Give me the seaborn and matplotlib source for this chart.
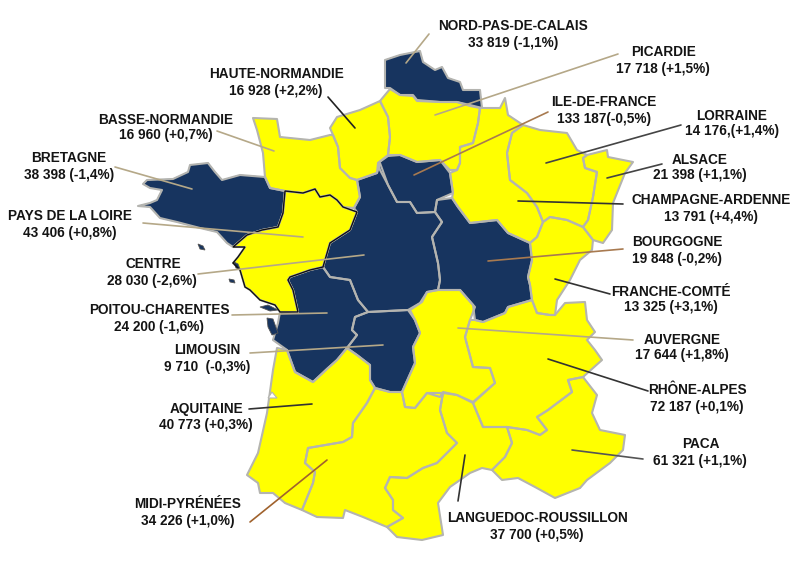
import matplotlib
matplotlib.use("Agg")
import matplotlib.pyplot as plt
import seaborn as sns
from matplotlib.patches import Polygon

# ---- chart values ----
regions = ["NORD-PAS-DE-CALAIS", "PICARDIE", "HAUTE-NORMANDIE", "ILE-DE-FRANCE", "BASSE-NORMANDIE",
           "LORRAINE", "BRETAGNE", "ALSACE", "CHAMPAGNE-ARDENNE", "PAYS DE LA LOIRE", "BOURGOGNE",
           "CENTRE", "FRANCHE-COMTÉ", "POITOU-CHARENTES", "AUVERGNE", "LIMOUSIN", "RHÔNE-ALPES",
           "AQUITAINE", "PACA", "MIDI-PYRÉNÉES", "LANGUEDOC-ROUSSILLON"]
value_labels = ["33 819 (-1,1%)", "17 718 (+1,5%)", "16 928 (+2,2%)", "133 187(-0,5%)", "16 960 (+0,7%)",
                "14 176,(+1,4%)", "38 398 (-1,4%)", "21 398 (+1,1%)", "13 791 (+4,4%)", "43 406 (+0,8%)",
                "19 848 (-0,2%)", "28 030 (-2,6%)", "13 325 (+3,1%)", "24 200 (-1,6%)", "17 644 (+1,8%)",
                "9 710  (-0,3%)", "72 187 (+0,1%)", "40 773 (+0,3%)", "61 321 (+1,1%)", "34 226 (+1,0%)",
                "37 700 (+0,5%)"]
navy_regions = ["NORD-PAS-DE-CALAIS", "ILE-DE-FRANCE", "BRETAGNE", "BOURGOGNE", "CENTRE",
                "POITOU-CHARENTES", "LIMOUSIN"]

# ---- map geometry (pixel frame of the picture) ----
outlines = {
 "NORD-PAS-DE-CALAIS": [(385,60),(400,55),(420,51),(423,62),(435,70),(442,67),(448,78),(460,82),(463,90),(480,90),(482,108),(470,105),(457,102),(440,102),(417,100),(413,95),(400,95),(390,88),(385,88)],
 "PICARDIE": [(380,101),(390,89),(400,95),(413,96),(417,101),(440,102),(457,102),(470,106),(480,108),(478,123),(473,143),(460,147),(460,163),(457,170),(450,170),(440,160),(417,162),(400,155),(388,155),(390,137),(388,117)],
 "HAUTE-NORMANDIE": [(330,128),(337,117),(360,110),(380,101),(388,117),(390,137),(388,155),(378,163),(377,173),(357,180),(350,178),(340,168),(338,147),(333,135)],
 "BASSE-NORMANDIE": [(253,118),(277,119),(280,137),(310,140),(330,135),(333,135),(338,147),(340,168),(350,178),(357,180),(360,197),(354,208),(343,207),(337,200),(330,195),(320,197),(315,189),(303,193),(285,191),(270,188),(265,177),(263,153),(257,130)],
 "BRETAGNE": [(143,184),(147,180),(173,179),(188,172),(190,165),(208,163),(215,172),(222,180),(240,175),(265,177),(270,188),(285,191),(283,213),(278,227),(262,230),(247,235),(233,247),(227,243),(217,232),(200,228),(177,222),(160,218),(150,207),(138,206),(150,203),(157,200),(162,190),(150,188)],
 "PAYS DE LA LOIRE": [(285,191),(303,193),(315,189),(320,197),(330,195),(337,200),(343,207),(357,212),(350,230),(330,243),(323,267),(310,270),(290,277),(288,280),(293,290),(298,312),(280,312),(275,305),(260,300),(250,290),(245,287),(240,270),(233,263),(238,257),(245,247),(233,247),(247,235),(262,230),(278,227),(283,213)],
 "POITOU-CHARENTES": [(288,280),(290,277),(310,270),(323,267),(330,277),(350,280),(358,300),(368,312),(355,317),(352,330),(357,335),(347,348),(337,360),(328,368),(313,382),(295,372),(287,350),(273,340),(278,323),(280,312),(298,312),(293,290)],
 "CENTRE": [(380,163),(377,173),(357,180),(360,197),(354,208),(357,212),(350,230),(330,243),(323,267),(330,277),(350,280),(358,300),(368,312),(408,310),(420,303),(427,292),(438,290),(440,280),(438,263),(432,237),(442,222),(435,212),(417,213),(410,202),(397,202),(388,185)],
 "ILE-DE-FRANCE": [(378,163),(388,156),(400,155),(417,162),(440,160),(450,173),(453,193),(437,200),(435,212),(417,213),(410,202),(397,202),(388,185),(380,170)],
 "BOURGOGNE": [(437,200),(452,198),(458,207),(470,223),(497,220),(508,233),(530,243),(532,260),(528,277),(530,285),(532,300),(508,307),(505,313),(483,322),(475,320),(473,305),(460,290),(438,290),(440,280),(438,263),(432,237),(442,222),(435,212)],
 "CHAMPAGNE-ARDENNE": [(480,108),(500,108),(505,98),(508,115),(523,125),(512,133),(507,153),(510,180),(527,193),(537,207),(543,222),(537,237),(530,243),(508,233),(497,220),(470,223),(458,207),(452,198),(453,193),(450,173),(457,170),(460,163),(460,147),(473,143),(478,123)],
 "LORRAINE": [(523,125),(540,130),(567,133),(577,150),(587,155),(583,158),(585,168),(597,172),(593,197),(588,220),(583,227),(567,220),(550,217),(543,222),(537,207),(527,193),(510,180),(507,153),(512,133)],
 "ALSACE": [(587,155),(607,150),(608,157),(633,162),(625,173),(613,203),(612,230),(603,243),(593,240),(583,227),(588,220),(593,197),(597,172),(585,168),(583,158)],
 "FRANCHE-COMTÉ": [(550,217),(567,220),(583,227),(593,240),(592,250),(580,260),(570,280),(557,300),(555,315),(550,315),(537,313),(532,300),(530,285),(528,277),(532,260),(530,243),(537,237),(543,222)],
 "AUVERGNE": [(410,310),(422,302),(427,292),(438,290),(460,290),(475,307),(470,320),(465,337),(473,367),(490,368),(495,383),(473,402),(457,395),(443,392),(440,397),(427,393),(415,408),(405,407),(402,392),(415,363),(413,347),(420,333),(415,320)],
 "RHÔNE-ALPES": [(470,320),(475,320),(483,322),(505,313),(508,307),(532,300),(537,313),(550,315),(555,315),(565,303),(585,302),(587,320),(595,332),(587,340),(595,350),(602,360),(583,377),(568,380),(572,392),(548,410),(537,417),(547,430),(540,435),(527,430),(507,427),(483,427),(473,403),(495,383),(490,368),(473,367),(465,337)],
 "PACA": [(583,377),(597,395),(592,413),(600,430),(625,435),(623,450),(610,463),(587,480),(580,488),(555,498),(535,487),(518,478),(502,480),(492,470),(505,457),(512,443),(507,427),(527,430),(540,435),(547,430),(537,417),(548,410),(572,392),(568,380)],
 "LANGUEDOC-ROUSSILLON": [(473,403),(483,427),(507,427),(512,443),(505,457),(492,470),(482,468),(470,473),(450,487),(438,503),(443,535),(422,540),(397,537),(387,527),(403,518),(393,510),(393,500),(385,488),(390,477),(407,478),(423,468),(437,463),(457,443),(447,433),(440,410),(443,393),(457,395)],
 "MIDI-PYRÉNÉES": [(375,388),(390,392),(402,392),(405,407),(415,408),(427,393),(443,393),(440,410),(447,433),(457,443),(437,463),(423,468),(407,478),(390,477),(385,488),(393,500),(393,510),(403,518),(387,527),(363,517),(345,510),(343,518),(317,517),(302,510),(313,483),(315,472),(305,463),(308,448),(343,442),(352,437),(353,423),(367,403)],
 "AQUITAINE": [(277,348),(287,350),(295,372),(313,382),(328,368),(337,360),(347,348),(357,355),(370,365),(370,380),(375,388),(367,403),(353,423),(352,437),(343,442),(308,448),(305,463),(315,472),(313,483),(302,510),(285,503),(273,493),(260,493),(258,483),(247,475),(258,453),(267,413),(273,370)],
 "LIMOUSIN": [(368,312),(408,310),(415,320),(420,333),(413,347),(415,363),(402,392),(390,392),(375,388),(370,380),(370,365),(357,355),(347,348),(357,335),(352,330),(355,317)],
}
islands = [[(260,307),(268,305),(278,310),(270,311)], [(267,318),(273,319),(278,333),(272,335),(268,327)],
           [(234,262),(238,264),(240,269),(236,268)], [(198,244),(203,246),(205,250),(200,249)], [(229,279),(234,280),(235,283),(230,282)]]
arcachon = [(268,398),(272,392),(277,398)]

# ---- leader lines: start on the map, end near the label ----
leaders = [((406,63),(429,34),"#b5a888"),((435,115),(618,54),"#b5a888"),((355,128),(328,97),"#222222"),
           ((414,175),(548,112),"#a87a50"),((274,151),(217,131),"#b5a888"),((546,163),(681,125),"#444444"),
           ((192,189),(115,167),"#b5a888"),((607,178),(662,164),"#444444"),((518,201),(623,204),"#333333"),
           ((303,237),(143,223),"#b5a888"),((488,261),(623,249),"#a87a50"),((364,255),(198,274),"#b5a888"),
           ((555,279),(610,294),"#333333"),((327,313),(232,315),"#b5a888"),((458,328),(633,340),"#b5a888"),
           ((383,345),(250,353),"#b5a888"),((548,359),(648,391),"#333333"),((312,404),(249,409),"#333333"),
           ((572,450),(643,459),"#555555"),((327,460),(250,522),"#a0622d"),((465,455),(458,501),"#333333")]
name_pos = [(513,24),(663,51),(276,72),(604,101),(166,118),(732,114),(69,157),(700,158),(711,199),(70,215),
            (677,241),(153,263),(671,290),(159,309),(682,338),(207,349),(697,388),(206,407),(701,443),(188,503),(537,517)]
value_pos = [(513,41),(663,68),(276,89),(604,117),(166,134),(732,130),(69,173),(700,174),(711,216),(70,232),
             (677,258),(152,280),(671,306),(159,326),(682,354),(207,366),(697,405),(206,423),(700,459),(188,520),(537,533)]

sns.set_theme(style="white")
plt.rcParams['font.family'] = ['Liberation Sans', 'DejaVu Sans']
fig, ax = plt.subplots(figsize=(8.0, 5.83), dpi=100)
fig.subplots_adjust(0, 0, 1, 1)
ax.set_xlim(0, 800)
ax.set_ylim(583, 0)
ax.axis("off")

YELLOW, NAVY, EDGE = "#FFFF00", "#17345F", "#B4B4B0"
for name, pts in outlines.items():
    fill = NAVY if name in navy_regions else YELLOW
    ax.add_patch(Polygon(pts, closed=True, facecolor=fill, edgecolor=fill, lw=0.5, zorder=2))
for name, pts in outlines.items():
    ax.add_patch(Polygon(pts, closed=True, facecolor="none", edgecolor=EDGE, lw=1.5, zorder=3, joinstyle="round"))
ax.add_patch(Polygon(outlines["PAYS DE LA LOIRE"], closed=True, facecolor="none", edgecolor="#111111", lw=1.0, zorder=4))
for pts in islands:
    ax.add_patch(Polygon(pts, closed=True, facecolor=NAVY, edgecolor="#555555", lw=0.6, zorder=3))
ax.add_patch(Polygon(arcachon, closed=True, facecolor="white", edgecolor=EDGE, lw=0.8, zorder=4))

for (p0, p1, col) in leaders:
    ax.plot([p0[0], p1[0]], [p0[1], p1[1]], color=col, lw=1.2, zorder=5, solid_capstyle="round")

for name, val, (nx, ny), (vx, vy) in zip(regions, value_labels, name_pos, value_pos):
    ax.text(nx, ny, name, ha="center", va="center_baseline", fontsize=9.8, fontweight="bold", color="#141414", zorder=6)
    ax.text(vx, vy, val, ha="center", va="center_baseline", fontsize=9.8, fontweight="bold", color="#141414", zorder=6)

fig.savefig("out.png", dpi=100, facecolor="white")
